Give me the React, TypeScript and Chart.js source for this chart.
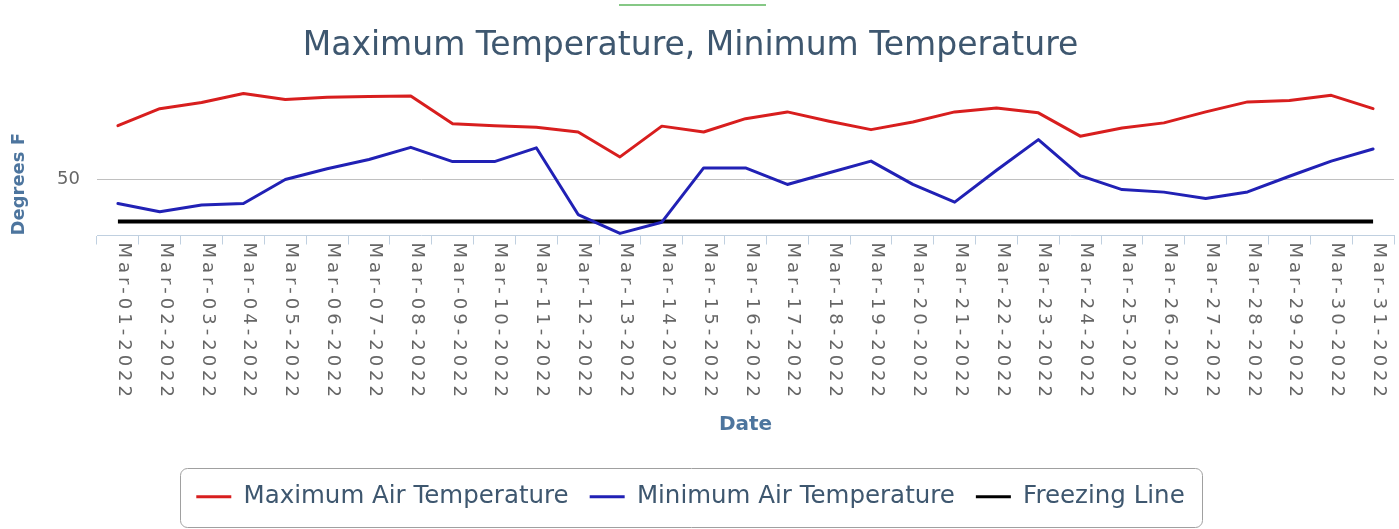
import React, { useEffect, useRef } from 'react';
import { Chart, registerables, CategoryScale } from 'chart.js';

Chart.register(...registerables);

const dates = [
  'Mar-01-2022', 'Mar-02-2022', 'Mar-03-2022', 'Mar-04-2022', 'Mar-05-2022', 'Mar-06-2022',
  'Mar-07-2022', 'Mar-08-2022', 'Mar-09-2022', 'Mar-10-2022', 'Mar-11-2022', 'Mar-12-2022',
  'Mar-13-2022', 'Mar-14-2022', 'Mar-15-2022', 'Mar-16-2022', 'Mar-17-2022', 'Mar-18-2022',
  'Mar-19-2022', 'Mar-20-2022', 'Mar-21-2022', 'Mar-22-2022', 'Mar-23-2022', 'Mar-24-2022',
  'Mar-25-2022', 'Mar-26-2022', 'Mar-27-2022', 'Mar-28-2022', 'Mar-29-2022', 'Mar-30-2022',
  'Mar-31-2022',
];

const maxAirTemperature = [
  73.1, 80.4, 83.0, 86.9, 84.3, 85.3, 85.6, 85.8, 73.9, 73.1, 72.4, 70.4, 59.7, 72.9, 70.4, 76.1,
  79.0, 75.0, 71.4, 74.7, 79.0, 80.7, 78.6, 68.6, 72.1, 74.3, 79.0, 83.3, 83.9, 86.1, 80.4,
];

const minAirTemperature = [
  39.7, 36.2, 39.1, 39.7, 50.0, 54.6, 58.6, 63.8, 57.7, 57.7, 63.6, 35.0, 26.9, 31.7, 55.0, 55.0,
  47.9, 52.9, 57.9, 47.9, 40.3, 54.0, 67.1, 51.7, 45.7, 44.6, 41.9, 44.7, 51.4, 57.9, 63.1,
];

const freezingLine = [
  32, 32, 32, 32, 32, 32, 32, 32, 32, 32, 32, 32, 32, 32, 32, 32,
  32, 32, 32, 32, 32, 32, 32, 32, 32, 32, 32, 32, 32, 32, 32,
];

const yTickValues = [50];

const FONT = "'DejaVu Sans', Verdana, sans-serif";

class RotatedCategoryScale extends CategoryScale {
  static id = 'rotatedCategory';
  static defaults = CategoryScale.defaults;

  drawLabels() {
    const ctx = this.ctx;
    const t: any = this.options.ticks;
    ctx.save();
    ctx.font = `normal 18px ${FONT}`;
    ctx.fillStyle = t.color;
    try {
      (ctx as any).letterSpacing = '4px';
    } catch (e) {
      /* ignore */
    }
    ctx.textAlign = 'left';
    ctx.textBaseline = 'alphabetic';
    this.ticks.forEach((tick: any, i: number) => {
      const x = this.getPixelForTick(i);
      ctx.save();
      ctx.translate(x + 1, this.top + 7);
      ctx.rotate(Math.PI / 2);
      ctx.fillText(String(tick.label), 0, 0);
      ctx.restore();
    });
    ctx.restore();
  }
}

Chart.register(RotatedCategoryScale);

const legendBorder = {
  id: 'legendBorder',
  afterDraw(chart: any) {
    const lg = chart.legend;
    if (!lg || !lg.legendHitBoxes || !lg.legendHitBoxes.length) return;
    const hb = lg.legendHitBoxes;
    const l = Math.min(...hb.map((h: any) => h.left)) - 16;
    const r = Math.max(...hb.map((h: any) => h.left + h.width)) + 18;
    const t = hb[0].top - 17;
    const b = hb[0].top + hb[0].height + 17;
    const ctx = chart.ctx;
    ctx.save();
    ctx.strokeStyle = '#a0a0a0';
    ctx.lineWidth = 1;
    ctx.beginPath();
    (ctx as any).roundRect(Math.round(l) + 0.5, Math.round(t) + 0.5, Math.round(r - l), Math.round(b - t), 7);
    ctx.stroke();
    ctx.restore();
  },
};

export default function App() {
  const canvasRef = useRef<HTMLCanvasElement | null>(null);

  useEffect(() => {
    const canvas = canvasRef.current;
    if (!canvas) return;
    const chart = new Chart(canvas, {
      type: 'line',
      data: {
        labels: dates,
        datasets: [
          {
            label: 'Maximum Air Temperature',
            data: maxAirTemperature,
            borderColor: '#d81e1e',
            backgroundColor: '#d81e1e',
            borderWidth: 3,
            pointRadius: 0,
            tension: 0,
            borderJoinStyle: 'round',
            borderCapStyle: 'round',
          },
          {
            label: 'Minimum Air Temperature',
            data: minAirTemperature,
            borderColor: '#2121b5',
            backgroundColor: '#2121b5',
            borderWidth: 3,
            pointRadius: 0,
            tension: 0,
            borderJoinStyle: 'round',
            borderCapStyle: 'round',
          },
          {
            label: 'Freezing Line',
            data: freezingLine,
            borderColor: '#000000',
            backgroundColor: '#000000',
            borderWidth: 4,
            pointRadius: 0,
            tension: 0,
          },
        ],
      },
      options: {
        animation: false,
        responsive: false,
        maintainAspectRatio: false,
        events: [],
        layout: { padding: { left: 0, right: 5, top: 0, bottom: 10 } },
        scales: {
          x: {
            type: 'rotatedCategory' as any,
            offset: true,
            grid: {
              offset: true,
              drawOnChartArea: false,
              drawTicks: true,
              tickLength: 9,
              color: '#c0d0e0',
              lineWidth: 1,
            },
            border: { display: true, color: '#c0d0e0', width: 1 },
            ticks: {
              autoSkip: false,
              minRotation: 90,
              maxRotation: 90,
              color: '#666666',
              font: { family: FONT, size: 18 },
            },
            title: {
              display: true,
              text: 'Date',
              color: '#4d759e',
              font: { family: FONT, size: 20, weight: 'bold' },
              padding: { top: 0, bottom: 27 },
            },
            afterFit: (s: any) => {
              s.height = 228;
            },
          } as any,
          y: {
            min: 26,
            max: 95,
            afterBuildTicks: (s: any) => {
              s.ticks = yTickValues.map((v) => ({ value: v }));
            },
            grid: { color: '#c0c0c0', drawTicks: false, lineWidth: 1 },
            border: { display: false },
            ticks: {
              padding: 17,
              color: '#666666',
              font: { family: FONT, size: 18 },
            },
            title: {
              display: true,
              text: 'Degrees F',
              align: 'start',
              color: '#4d759e',
              font: { family: FONT, size: 18, weight: 'bold' },
              padding: { top: 22, bottom: 0 },
            },
            afterFit: (s: any) => {
              s.width = 110;
            },
          },
        },
        plugins: {
          title: {
            display: true,
            text: 'Maximum Temperature, Minimum Temperature',
            color: '#3e576f',
            font: { family: FONT, size: 33, weight: 'normal' },
            padding: { top: 27, bottom: 8 },
          },
          legend: {
            display: true,
            position: 'bottom',
            labels: {
              color: '#3e576f',
              font: { family: FONT, size: 24.5 },
              boxWidth: 35,
              boxHeight: 3,
              padding: 21,
              generateLabels: (c: any) =>
                Chart.defaults.plugins.legend.labels
                  .generateLabels(c)
                  .map((it: any) => ({ ...it, lineWidth: 0, fillStyle: it.strokeStyle })),
            },
          },
          tooltip: { enabled: false },
        },
      },
      plugins: [legendBorder],
    });
    return () => chart.destroy();
  }, []);

  return (
    <div>
      <div
        style={{
          position: 'absolute',
          left: 619,
          top: 4,
          width: 147,
          height: 2,
          background: '#86c886',
        }}
      />
      <div style={{ position: 'absolute', left: -13, top: 0, width: 1412, height: 529 }}>
        <canvas ref={canvasRef} width={1412} height={529} style={{ display: 'block' }} />
      </div>
    </div>
  );
}
